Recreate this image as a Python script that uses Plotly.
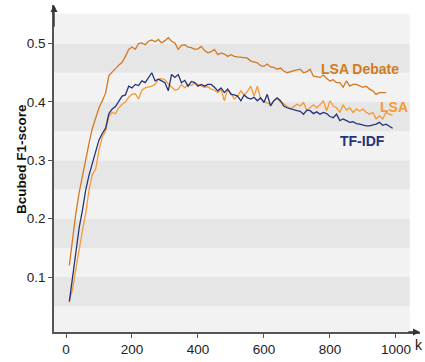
import plotly.graph_objects as go

k_vals = list(range(10, 1000, 10))

lsa_debate = [0.120, 0.170, 0.210, 0.245, 0.275, 0.305, 0.330, 0.355, 0.372, 0.390,
              0.402, 0.415, 0.445, 0.452, 0.457, 0.463, 0.468, 0.478, 0.490, 0.494,
              0.490, 0.500, 0.501, 0.498, 0.504, 0.506, 0.503, 0.507, 0.501, 0.505,
              0.510, 0.504, 0.501, 0.490, 0.497, 0.498, 0.494, 0.493, 0.490, 0.491,
              0.495, 0.488, 0.484, 0.486, 0.490, 0.481, 0.484, 0.482, 0.478, 0.481,
              0.478, 0.477, 0.476, 0.476, 0.475, 0.470, 0.468, 0.467, 0.462, 0.461,
              0.465, 0.460, 0.459, 0.456, 0.458, 0.453, 0.450, 0.452, 0.453, 0.455,
              0.456, 0.450, 0.452, 0.456, 0.444, 0.443, 0.442, 0.446, 0.440, 0.436,
              0.438, 0.433, 0.433, 0.425, 0.436, 0.427, 0.430, 0.430, 0.427, 0.425,
              0.427, 0.422, 0.419, 0.413, 0.416, 0.416, 0.416]

lsa = [0.058, 0.080, 0.115, 0.150, 0.180, 0.210, 0.250, 0.276, 0.285, 0.318,
       0.340, 0.350, 0.375, 0.382, 0.380, 0.390, 0.396, 0.400, 0.408, 0.413,
       0.414, 0.405, 0.420, 0.424, 0.425, 0.427, 0.430, 0.439, 0.440, 0.438,
       0.431, 0.426, 0.420, 0.422, 0.430, 0.424, 0.430, 0.428, 0.432, 0.430,
       0.428, 0.425, 0.426, 0.422, 0.420, 0.416, 0.421, 0.402, 0.422, 0.415,
       0.405, 0.410, 0.419, 0.412, 0.418, 0.427, 0.410, 0.427, 0.405, 0.401,
       0.398, 0.396, 0.402, 0.405, 0.400, 0.397, 0.393, 0.388, 0.392, 0.396,
       0.393, 0.399, 0.385, 0.390, 0.395, 0.390, 0.395, 0.402, 0.385, 0.402,
       0.393, 0.390, 0.382, 0.395, 0.386, 0.390, 0.382, 0.388, 0.384, 0.388,
       0.382, 0.379, 0.382, 0.371, 0.376, 0.371, 0.382, 0.379, 0.377]

tfidf = [0.058, 0.100, 0.145, 0.185, 0.215, 0.250, 0.275, 0.295, 0.318, 0.335,
         0.346, 0.355, 0.380, 0.388, 0.392, 0.400, 0.410, 0.412, 0.427, 0.424,
         0.430, 0.428, 0.436, 0.433, 0.442, 0.450, 0.436, 0.439, 0.436, 0.433,
         0.419, 0.447, 0.442, 0.447, 0.433, 0.437, 0.427, 0.435, 0.433, 0.427,
         0.430, 0.427, 0.430, 0.430, 0.425, 0.419, 0.424, 0.416, 0.422, 0.413,
         0.412, 0.410, 0.402, 0.412, 0.407, 0.405, 0.408, 0.402, 0.407, 0.399,
         0.413, 0.393, 0.402, 0.407, 0.402, 0.393, 0.390, 0.388, 0.386, 0.385,
         0.384, 0.379, 0.386, 0.385, 0.380, 0.383, 0.379, 0.382, 0.380, 0.375,
         0.373, 0.379, 0.368, 0.371, 0.368, 0.365, 0.366, 0.363, 0.362, 0.360,
         0.359, 0.359, 0.360, 0.362, 0.365, 0.360, 0.362, 0.359, 0.355]

x_ticks = [0, 200, 400, 600, 800, 1000]
y_ticks = [0.1, 0.2, 0.3, 0.4, 0.5]
y_tick_text = ["0.1", "0.2", "0.3", "0.4", "0.5"]
band_edges = [0.006, 0.05, 0.1, 0.15, 0.2, 0.25, 0.3, 0.35, 0.4, 0.45, 0.5, 0.551]

c_deb = "#d27a22"
c_lsa = "#f59a35"
c_tf = "#24337a"

X0, X1 = -36.4, 1073
XB = 1042
Y0, Y1 = 0.006, 0.566

fig = go.Figure()
fig.add_trace(go.Scatter(x=k_vals[:len(lsa_debate)], y=lsa_debate, mode="lines",
                         line=dict(color=c_deb, width=1.3), showlegend=False))
fig.add_trace(go.Scatter(x=k_vals[:len(lsa)], y=lsa, mode="lines",
                         line=dict(color=c_lsa, width=1.3), showlegend=False))
fig.add_trace(go.Scatter(x=k_vals[:len(tfidf)], y=tfidf, mode="lines",
                         line=dict(color=c_tf, width=1.3), showlegend=False))

shapes = []
for i in range(len(band_edges) - 1):
    lo, hi = band_edges[i], band_edges[i + 1]
    mid = (lo + hi) / 2
    dark = int(round(mid / 0.05 - 0.5)) % 2 == 1
    shapes.append(dict(type="rect", xref="x", yref="y", x0=X0, x1=XB, y0=lo, y1=hi,
                       fillcolor="#e6e6e6" if dark else "#f2f2f2", line=dict(width=0),
                       layer="below"))

font = "Liberation Sans, Arial, Helvetica, sans-serif"
annotations = [
    dict(x=891, y=0.457, xref="x", yref="y", text="<b>LSA Debate</b>", showarrow=False,
         font=dict(family=font, size=14, color=c_deb)),
    dict(x=994, y=0.391, xref="x", yref="y", text="<b>LSA</b>", showarrow=False,
         font=dict(family=font, size=14, color=c_lsa)),
    dict(x=900, y=0.333, xref="x", yref="y", text="<b>TF-IDF</b>", showarrow=False,
         font=dict(family=font, size=14, color=c_tf)),
    dict(x=-0.115, y=0.53, xref="paper", yref="paper", text="<b>Bcubed F1-score</b>",
         textangle=-90, showarrow=False, font=dict(family=font, size=13.5, color="#111")),
    dict(x=1.0135, y=-0.04, xref="paper", yref="paper", text="k", showarrow=False,
         xanchor="right", yanchor="middle", font=dict(family=font, size=14, color="#111")),
    dict(x=X1, y=Y0, ax=X1 - 40, ay=Y0, xref="x", yref="y", axref="x", ayref="y",
         text="", showarrow=True, arrowhead=2, arrowsize=1, arrowwidth=1.4, arrowcolor="#333"),
    dict(x=X0, y=Y1, ax=X0, ay=Y1 - 0.04, xref="x", yref="y", axref="x", ayref="y",
         text="", showarrow=True, arrowhead=2, arrowsize=1, arrowwidth=1.4, arrowcolor="#333"),
]

fig.update_layout(
    width=425, height=362,
    margin=dict(l=54, r=5, t=5, b=28),
    paper_bgcolor="white", plot_bgcolor="white",
    shapes=shapes, annotations=annotations,
    font=dict(family=font, size=13.5, color="#222"),
    xaxis=dict(range=[X0, X1], tickvals=x_ticks, showgrid=False, zeroline=False,
               showline=True, linecolor="#555", linewidth=1.5, ticks="outside",
               ticklen=4, tickcolor="#555", tickfont=dict(size=13.5)),
    yaxis=dict(range=[Y0, Y1], tickvals=y_ticks, ticktext=y_tick_text, showgrid=False,
               zeroline=False, showline=True, linecolor="#555", linewidth=1.5,
               ticks="outside", ticklen=4, tickcolor="#555", tickfont=dict(size=13.5)),
)

fig.write_html("out.html")
